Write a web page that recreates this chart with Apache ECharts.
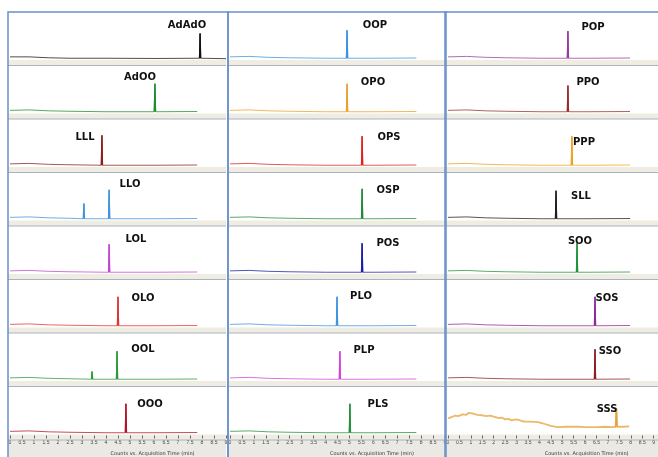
<!DOCTYPE html>
<html>
<head>
<meta charset="utf-8">
<script src="https://cdn.jsdelivr.net/npm/echarts@6/dist/echarts.min.js"></script>
<style>
html,body{margin:0;padding:0;background:#fff}
#main{width:658px;height:457px}
</style>
</head>
<body>
<div id="main"></div>
<script>
// panels, column by column (top to bottom)
var names = ['AdAdO','AdOO','LLL','LLO','LOL','OLO','OOL','OOO',
             'OOP','OPO','OPS','OSP','POS','PLO','PLP','PLS',
             'POP','PPO','PPP','SLL','SOO','SOS','SSO','SSS'];
var colors = ['#111111','#1f8a2e','#8e1c1c','#3f93dc','#c345d4','#e23434','#2a9a3a','#b0142a',
              '#3b90e2','#eb9f2c','#e22020','#23893a','#1a1ea6','#3f93e0','#d244d6','#22903a',
              '#9a3a9c','#9a2c2c','#f0a21e','#1e1e1e','#22923a','#8c2a9c','#8a1f22','#e3a236'];
// retention time (min) and height of the main peak
var peakTimes = [7.92,6.04,3.83,4.13,4.13,4.50,4.46,4.83,
                 4.90,4.90,5.53,5.53,5.53,4.48,4.60,5.02,
                 5.14,5.14,5.31,4.63,5.53,6.30,6.30,7.37];
var peakHeights = [54,61,65,63,61,63,61,63,
                   61,61,63,65,63,63,61,63,
                   59,57,63,61,63,63,65,41];
// small extra peaks
var minorNames = ['LLO','OOL'];
var minorTimes = [3.08,3.42];
var minorHeights = [33,17];
// baselines [time, level]
var baseRegular = [[0,9],[0.8,10],[1.6,8],[2.5,7],[4,6],[6,6],[7.8,6.5]];
var baseLong = [[0,9],[0.8,9],[1.6,7],[2.5,6],[4,6],[6,5.5],[8,5],[9,5]];
var baseSSS = [[0,37],[0.15,40],[0.3,43],[0.45,42],[0.64,46],[0.8,45],[0.9,49],[1.07,48],[1.2,46],[1.3,45],
               [1.5,44],[1.67,42],[1.85,43],[2.0,41],[2.23,38],[2.35,39],[2.5,35],[2.65,36],[2.79,33],
               [2.95,35],[3.1,34],[3.25,31],[3.39,30],[3.6,30],[3.94,29],[4.1,27],[4.24,25],[4.5,21],
               [4.8,18],[5.2,19],[5.66,19],[6.1,18],[6.51,18],[6.9,19],[7.2,18],[7.67,19],[7.93,20]];
var axisMin = 0, axisMax = 9, axisStep = 0.5;

var cols = [{x0:10,x1:226},{x0:230,x1:445},{x0:448,x1:658}];
var rowH = 53.5, top0 = 12;
var labelPos = [[187,25],[140,77],[85,137],[130,184],[136,239],[143,298],[143,349],[150,404],
                [375,25],[373,82],[389,137],[388,190],[388,243],[361,296],[364,350],[378,404],
                [593,27],[588,82],[584,142],[581,196],[580,241],[607,298],[610,351],[607,409]];

function baselineFor(name){
  if(name === 'SSS') return baseSSS;
  if(name === 'AdAdO') return baseLong;
  return baseRegular;
}

var grids = [], xAxes = [], yAxes = [], series = [], graphics = [];

// background strips / frames
cols.forEach(function(c, ci){
  for(var r = 0; r < 8; r++){
    var t = top0 + r*rowH;
    graphics.push({type:'rect', shape:{x:c.x0-2, y:t+48, width:c.x1-c.x0+2, height:5.5},
      style:{fill:'#efece2'}, z:0});
    graphics.push({type:'line', shape:{x1:c.x0-2, y1:t+53.5, x2:c.x1, y2:t+53.5},
      style:{stroke:'#a9b3c4', lineWidth:1}, z:1});
  }
  graphics.push({type:'rect', shape:{x:c.x0-2, y:top0+8*rowH, width:c.x1-c.x0+2, height:457-(top0+8*rowH)},
    style:{fill:'#ebe9e3'}, z:0});
  graphics.push({type:'text', style:{text:'Counts vs. Acquisition Time (min)', x:c.x0+(c.x1-c.x0)*0.66, y:454,
    font:'5px "DejaVu Sans"', fill:'#333', textAlign:'center', textVerticalAlign:'middle'}, z:5});
});
[[8,228],[228,446],[445,660]].forEach(function(f){
  graphics.push({type:'rect', shape:{x:f[0], y:top0, width:f[1]-f[0], height:460-top0},
    style:{fill:'none', stroke:'#6a8fca', lineWidth:1.5}, z:10});
});

names.forEach(function(name, i){
  var ci = Math.floor(i/8), r = i%8, c = cols[ci];
  var t = top0 + r*rowH;
  grids.push({left:c.x0, width:c.x1-c.x0, top:t+3, height:46});
  var last = r === 7;
  xAxes.push({type:'value', gridIndex:i, min:axisMin, max:axisMax, interval:axisStep,
    axisLine:{show:false}, splitLine:{show:false},
    axisTick:{show:last, length:3, lineStyle:{color:'#666'}},
    axisLabel:{show:last, fontSize:5, color:'#444', margin:5,
      formatter:function(v){ return String(v); }}});
  yAxes.push({type:'value', gridIndex:i, min:0, max:100, show:false});

  // trace built from the baseline knots plus the peaks
  var base = baselineFor(name);
  var pk = [[peakTimes[i], peakHeights[i]]];
  var mi = minorNames.indexOf(name);
  if(mi >= 0) pk.push([minorTimes[mi], minorHeights[mi]]);
  var baseLevel = name === 'SSS' ? 19 : 6;
  var pts = base.slice();
  var spikes = [];
  pk.forEach(function(p){
    pts.push([p[0]-0.03, baseLevel], [p[0], baseLevel+p[1]], [p[0]+0.03, baseLevel]);
    spikes.push([p[0]-0.02, baseLevel], [p[0], baseLevel+p[1]], [p[0]+0.02, baseLevel], null);
  });
  pts.sort(function(a,b){ return a[0]-b[0]; });
  series.push({type:'line', xAxisIndex:i, yAxisIndex:i, data:pts, showSymbol:false, silent:true,
    lineStyle:{color:colors[i], width:name === 'SSS' ? 1.8 : 1, opacity:0.75}});
  series.push({type:'line', xAxisIndex:i, yAxisIndex:i, data:spikes, showSymbol:false, silent:true,
    connectNulls:false, lineStyle:{color:colors[i], width:1.4}});

  graphics.push({type:'text', style:{text:name, x:labelPos[i][0], y:labelPos[i][1],
    font:'bold 10px "DejaVu Sans"', fill:'#111', textAlign:'center', textVerticalAlign:'middle'}, z:6});
});

var chart = echarts.init(document.getElementById('main'));
chart.setOption({
  animation:false,
  backgroundColor:'#fff',
  grid:grids, xAxis:xAxes, yAxis:yAxes, series:series,
  graphic:graphics
});
</script>
</body>
</html>
